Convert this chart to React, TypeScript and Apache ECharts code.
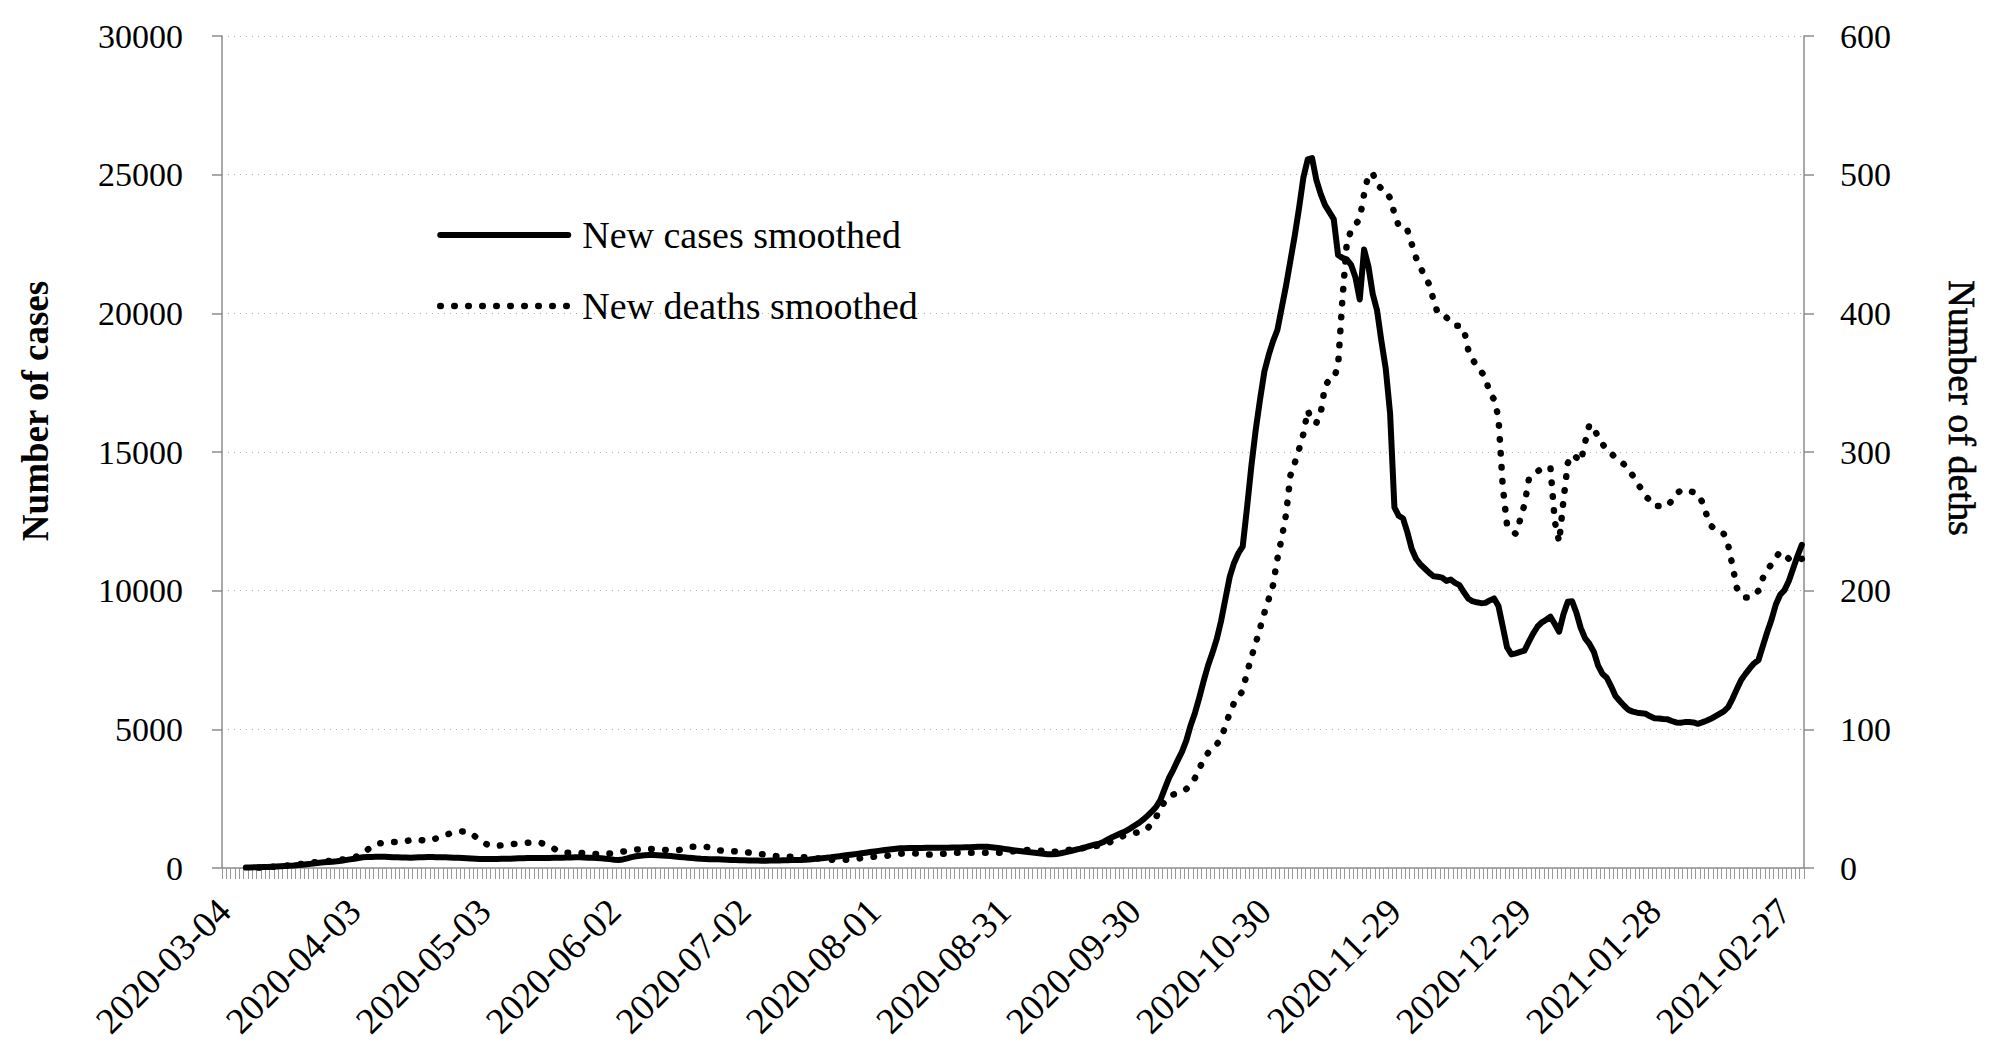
import React, { useEffect, useRef } from "react";
import * as echarts from "echarts";

const FONT = '"Liberation Serif", "Times New Roman", serif';

const START_DATE = "2020-03-04";
const DAY_COUNT = 365;
const LABEL_EVERY = 30;

const SERIES_NAMES = ["New cases smoothed", "New deaths smoothed"];
const AXIS_TITLES = ["Number of cases", "Number of deths"];

const CASES_AXIS = { min: 0, max: 30000, interval: 5000 };
const DEATHS_AXIS = { min: 0, max: 600, interval: 100 };

// Daily new cases (7-day smoothed), index 0 = 2020-03-04
const CASES: (number | null)[] = [
  null, null, null, null, null, 15, 20, 25, 30, 35,
  40, 48, 55, 62, 70, 80, 90, 105, 118, 135,
  150, 170, 190, 205, 215, 228, 240, 260, 285, 310,
  335, 360, 385, 395, 400, 405, 408, 405, 398, 390,
  385, 380, 376, 373, 378, 385, 392, 397, 395, 390,
  388, 385, 380, 372, 366, 361, 350, 340, 332, 325,
  324, 325, 326, 325, 330, 334, 337, 342, 348, 355,
  361, 362, 361, 360, 361, 364, 368, 371, 373, 377,
  381, 384, 385, 380, 373, 366, 361, 350, 335, 320,
  300, 289, 310, 345, 390, 425, 445, 458, 466, 469,
  462, 452, 445, 430, 412, 397, 385, 372, 361, 345,
  330, 325, 318, 314, 313, 305, 296, 289, 285, 280,
  276, 272, 268, 266, 264, 264, 266, 270, 274, 278,
  282, 286, 289, 292, 300, 310, 325, 340, 355, 370,
  385, 405, 425, 448, 469, 490, 510, 532, 553, 575,
  596, 617, 637, 656, 675, 693, 709, 713, 717, 720,
  721, 724, 727, 731, 733, 733, 734, 733, 736, 739,
  742, 745, 750, 756, 762, 769, 765, 750, 730, 709,
  690, 668, 645, 625, 605, 585, 566, 553, 535, 515,
  498, 493, 505, 530, 565, 600, 640, 680, 709, 760,
  810, 850, 880, 950, 1040, 1120, 1190, 1260, 1330, 1420,
  1520, 1620, 1740, 1880, 2030, 2200, 2450, 2850, 3250, 3550,
  3880, 4194, 4600, 5150, 5600, 6150, 6750, 7300, 7750, 8250,
  8900, 9700, 10500, 11000, 11350, 11600, 13000, 14500, 15800, 16900,
  17900, 18500, 19000, 19400, 20200, 21000, 21900, 22800, 23800, 24900,
  25550, 25600, 24800, 24300, 23900, 23650, 23400, 22100, 22000, 21950,
  21750, 21300, 20500, 22300, 21700, 20700, 20100, 19000, 18000, 16400,
  13000, 12700, 12600, 12100, 11500, 11150, 10950, 10800, 10650, 10520,
  10500, 10470, 10350, 10400, 10280, 10200, 9950, 9720, 9620, 9580,
  9550, 9560, 9650, 9720, 9450, 8700, 7950, 7700, 7740, 7790,
  7840, 8150, 8450, 8700, 8860, 8950, 9060, 8800, 8520, 9150,
  9600, 9620, 9200, 8650, 8280, 8080, 7800, 7300, 7000, 6860,
  6550, 6200, 6020, 5850, 5700, 5640, 5600, 5580, 5560, 5470,
  5400, 5390, 5370, 5360, 5300, 5250, 5240, 5260, 5265, 5250,
  5200, 5250, 5310, 5380, 5470, 5560, 5650, 5800, 6100, 6450,
  6780, 7000, 7200, 7380, 7500, 8000, 8500, 8950, 9500, 9850,
  10020, 10350, 10800, 11250, 11650,
];

// Daily new deaths (7-day smoothed), index 0 = 2020-03-04
const DEATHS: (number | null)[] = [
  null, null, null, null, null, null, null, null, 0.3, 0.4,
  0.6, 0.8, 1, 1.2, 1.5, 2, 2.3, 2.7, 3, 3.4,
  3.8, 4.2, 4.5, 4.8, 5, 5.3, 5.6, 6, 6.3, 6.5,
  7.5, 9, 10.6, 13, 15.5, 17, 17.8, 18.4, 18.7, 18.7,
  18.7, 18.7, 19.3, 20.2, 20.7, 20.3, 19.8, 19.5, 20.2, 21.5,
  22.5, 23.6, 24.8, 25.8, 26.2, 26.4, 26.4, 25, 22.5, 20.2,
  18, 16.5, 15.9, 16, 16.4, 16.7, 17, 17.4, 17.7, 17.8,
  18.2, 18.5, 18.7, 18.2, 17, 15.9, 14.2, 12.5, 11.2, 11,
  11, 11, 11, 10.7, 10.3, 10.1, 10.1, 10.1, 10.1, 10.5,
  11, 11.4, 11.8, 12.3, 12.8, 13.2, 13.4, 13.5, 13.7, 13.6,
  13.3, 13.1, 13, 13, 13, 13, 13.8, 14.6, 15.4, 15.4,
  15.4, 15.4, 14.8, 13.8, 12.8, 12.4, 12.2, 12.1, 12, 11.7,
  11.4, 11.1, 10.8, 10.3, 9.9, 9.6, 9.2, 8.7, 8.2, 8.2,
  8.2, 8.2, 8.1, 7.9, 7.7, 7.5, 7.2, 6.9, 6.6, 6.3,
  6, 5.9, 5.8, 5.9, 6, 6.2, 6.6, 7.2, 7.7, 8,
  8.1, 8.2, 8.2, 8.8, 9.5, 10.1, 10.3, 10.5, 10.6, 10.6,
  10.4, 10, 9.6, 9.7, 9.9, 10.1, 10.3, 10.6, 10.9, 11,
  11, 11, 11, 11, 11, 11, 11, 11, 11, 11,
  11.3, 11.7, 12.1, 12.5, 12.8, 13, 13, 12.9, 12.6, 12.3,
  12, 11.8, 11.8, 12.1, 12.6, 13.1, 13.5, 13.9, 14.3, 14.7,
  15.2, 15.8, 16.4, 17.2, 18.2, 19.5, 21, 22.5, 23.8, 24.6,
  25.2, 25.8, 26.3, 28.5, 32, 36.5, 43, 48, 51.5, 53,
  54, 55, 57, 60, 65, 72, 78, 83, 86, 89,
  94, 102, 112, 119, 123, 128, 141, 152, 162, 173,
  184, 194, 204, 223, 238, 255, 283, 292, 302, 313,
  330, 322, 321, 328, 348, 352, 353, 362, 410, 450,
  460, 464, 468, 486, 500, 501, 493, 490, 489, 483,
  472, 463, 460, 460, 450, 440, 433, 427, 421, 410,
  400, 398, 397, 394, 391, 391, 389, 374, 367, 362,
  358, 354, 342, 338, 325, 275, 247, 243, 241, 251,
  262, 280, 284, 286, 288, 289, 289, 250, 235, 265,
  292, 298, 296, 293, 307, 320, 317, 311, 306, 301,
  299, 296, 294, 291, 287, 283, 278, 273, 268, 265,
  261, 261, 261, 261, 265, 270, 272, 273, 272, 271,
  270, 264, 255, 247, 244, 242, 241, 233, 218, 202,
  197, 195, 195, 197, 200, 209, 215, 219, 224, 228,
  226, 223, 222, 222, 223,
];

function buildDates(start: string, count: number): string[] {
  const [y, m, d] = start.split("-").map(Number);
  const base = Date.UTC(y, m - 1, d);
  const out: string[] = [];
  for (let i = 0; i < count; i++) {
    const dt = new Date(base + i * 86400000);
    const mm = String(dt.getUTCMonth() + 1).padStart(2, "0");
    const dd = String(dt.getUTCDate()).padStart(2, "0");
    out.push(`${dt.getUTCFullYear()}-${mm}-${dd}`);
  }
  return out;
}

const AXIS_GRAY = "#8c8c8c";
const CASES_LINE = { color: "#000", width: 6, cap: "round", join: "round" };
const DEATHS_LINE = {
  color: "#000",
  width: 6.5,
  type: [0.5, 13.5],
  cap: "round",
  join: "round",
};

export default function App() {
  const ref = useRef<HTMLDivElement>(null);

  useEffect(() => {
    if (!ref.current) return;
    const chart = echarts.init(ref.current, null, { renderer: "svg" });
    const dates = buildDates(START_DATE, DAY_COUNT);

    const option: any = {
      animation: false,
      backgroundColor: "#ffffff",
      textStyle: { fontFamily: FONT, color: "#000" },
      grid: { left: 222, right: 196, top: 36, bottom: 186, containLabel: false },
      legend: {
        orient: "vertical",
        left: 437,
        top: 215,
        padding: 0,
        itemGap: 31,
        itemWidth: 128,
        itemHeight: 14,
        data: [
          {
            name: SERIES_NAMES[0],
            itemStyle: { opacity: 0, borderWidth: 0 },
            lineStyle: { ...CASES_LINE },
          },
          {
            name: SERIES_NAMES[1],
            itemStyle: { opacity: 0, borderWidth: 0 },
            lineStyle: { ...DEATHS_LINE },
          },
        ],
        textStyle: {
          fontFamily: FONT,
          fontSize: 38,
          color: "#000",
          lineHeight: 40,
          padding: [0, 0, 0, 9],
        },
      },
      xAxis: {
        type: "category",
        data: dates,
        boundaryGap: true,
        axisLine: { show: true, lineStyle: { color: AXIS_GRAY, width: 1.5 } },
        axisTick: {
          show: true,
          interval: 0,
          length: 11,
          lineStyle: { color: "#999999", width: 1 },
        },
        axisLabel: {
          interval: LABEL_EVERY - 1,
          rotate: 45,
          margin: 37,
          fontSize: 37,
          fontFamily: FONT,
          color: "#000",
        },
        splitLine: { show: false },
      },
      yAxis: [
        {
          type: "value",
          position: "left",
          min: CASES_AXIS.min,
          max: CASES_AXIS.max,
          interval: CASES_AXIS.interval,
          axisLine: { show: true, lineStyle: { color: AXIS_GRAY, width: 1.5 } },
          axisTick: { show: true, length: 10, lineStyle: { color: AXIS_GRAY, width: 1.5 } },
          axisLabel: {
            margin: 39,
            fontSize: 34,
            fontFamily: FONT,
            color: "#000",
            formatter: (v: number) => String(v),
          },
          splitLine: {
            show: true,
            lineStyle: { type: [1, 5], color: "#b0b0b0", width: 1 },
          },
        },
        {
          type: "value",
          position: "right",
          min: DEATHS_AXIS.min,
          max: DEATHS_AXIS.max,
          interval: DEATHS_AXIS.interval,
          axisLine: { show: true, lineStyle: { color: AXIS_GRAY, width: 1.5 } },
          axisTick: { show: true, length: 10, lineStyle: { color: AXIS_GRAY, width: 1.5 } },
          axisLabel: {
            margin: 36,
            fontSize: 34,
            fontFamily: FONT,
            color: "#000",
            formatter: (v: number) => String(v),
          },
          splitLine: { show: false },
        },
      ],
      graphic: [
        {
          type: "text",
          x: 35,
          y: 411,
          rotation: Math.PI / 2,
          style: {
            text: AXIS_TITLES[0],
            font: `bold 37px ${FONT}`,
            fill: "#000",
            align: "center",
            verticalAlign: "middle",
            textAlign: "center",
            textVerticalAlign: "middle",
          },
        },
        {
          type: "text",
          x: 1962,
          y: 408,
          rotation: -Math.PI / 2,
          style: {
            text: AXIS_TITLES[1],
            font: `38px ${FONT}`,
            fill: "#000",
            stroke: "#000",
            lineWidth: 0.6,
            align: "center",
            verticalAlign: "middle",
            textAlign: "center",
            textVerticalAlign: "middle",
          },
        },
      ],
      series: [
        {
          name: SERIES_NAMES[0],
          type: "line",
          data: CASES,
          yAxisIndex: 0,
          symbol: "none",
          showSymbol: false,
          connectNulls: false,
          lineStyle: { ...CASES_LINE },
          itemStyle: { color: "#000" },
          z: 3,
        },
        {
          name: SERIES_NAMES[1],
          type: "line",
          data: DEATHS,
          yAxisIndex: 1,
          symbol: "none",
          showSymbol: false,
          connectNulls: false,
          lineStyle: { ...DEATHS_LINE },
          itemStyle: { color: "#000" },
          z: 4,
        },
      ],
    };

    chart.setOption(option);
    return () => {
      chart.dispose();
    };
  }, []);

  return (
    <div
      ref={ref}
      style={{
        position: "fixed",
        left: 0,
        top: 0,
        width: 2000,
        height: 1054,
        background: "#fff",
      }}
    />
  );
}
